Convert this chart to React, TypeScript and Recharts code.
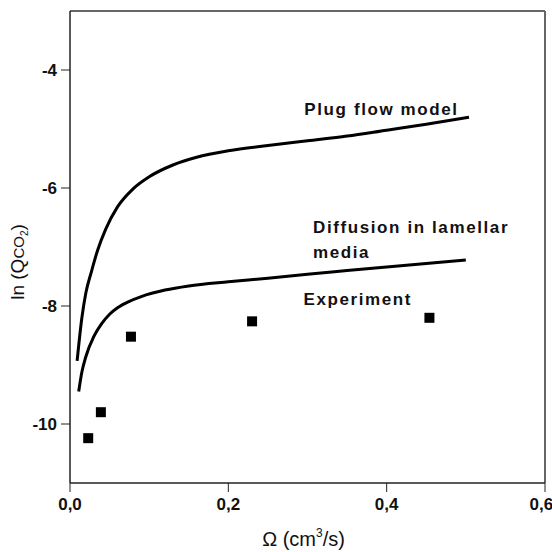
import { ComposedChart, Line, Scatter, XAxis, YAxis, ReferenceDot, ReferenceLine, Label } from 'recharts';

const xTicks = [0, 0.2, 0.4, 0.6];
const yTicks = [-4, -6, -8, -10];

const plugFlow = [
    { x: 0.009, y: -8.93 }, { x: 0.015, y: -8.2 }, { x: 0.02, y: -7.78 }, { x: 0.027, y: -7.42 },
    { x: 0.035, y: -7.05 }, { x: 0.045, y: -6.7 }, { x: 0.06, y: -6.32 }, { x: 0.08, y: -6.01 },
    { x: 0.1, y: -5.81 }, { x: 0.13, y: -5.61 }, { x: 0.16, y: -5.48 }, { x: 0.2, y: -5.37 },
    { x: 0.25, y: -5.28 }, { x: 0.3, y: -5.2 }, { x: 0.35, y: -5.12 }, { x: 0.4, y: -5.02 },
    { x: 0.45, y: -4.92 }, { x: 0.504, y: -4.8 },
];

const diffusion = [
    { x: 0.011, y: -9.45 }, { x: 0.015, y: -9.12 }, { x: 0.02, y: -8.86 }, { x: 0.03, y: -8.52 },
    { x: 0.04, y: -8.3 }, { x: 0.05, y: -8.14 }, { x: 0.06, y: -8.03 }, { x: 0.075, y: -7.92 },
    { x: 0.09, y: -7.84 }, { x: 0.12, y: -7.73 }, { x: 0.15, y: -7.66 }, { x: 0.2, y: -7.59 },
    { x: 0.25, y: -7.53 }, { x: 0.3, y: -7.46 }, { x: 0.35, y: -7.4 }, { x: 0.4, y: -7.34 },
    { x: 0.45, y: -7.28 }, { x: 0.5, y: -7.22 },
];

const experiment = [
    { x: 0.023, y: -10.24 },
    { x: 0.039, y: -9.8 },
    { x: 0.077, y: -8.52 },
    { x: 0.23, y: -8.26 },
    { x: 0.454, y: -8.2 },
];

const notes = [
    { x: 0.296, y: -4.76, text: 'Plug flow model' },
    { x: 0.307, y: -6.76, text: 'Diffusion in lamellar' },
    { x: 0.307, y: -7.19, text: 'media' },
    { x: 0.295, y: -7.98, text: 'Experiment' },
];

const font = '"Liberation Sans", Arial, sans-serif';
const tickStyle = { fontSize: 17, fontWeight: 700, fill: '#111', fontFamily: font };

const Square = (p: any) => <rect x={p.cx - 5} y={p.cy - 5} width={10} height={10} fill="#000" />;

const XTitle = (p: any) => {
    const { x, y, width } = p.viewBox;
    return (
        <text x={x + width / 2 - 4} y={y + 63} textAnchor="middle" fontSize={20} fontFamily={font} fill="#111">
            Ω (cm<tspan fontSize={12} dy={-9}>3</tspan><tspan dy={9}>/s)</tspan>
        </text>
    );
};

const YTitle = (p: any) => {
    const { x, y, height } = p.viewBox;
    const cx = x + 14;
    const cy = y + height / 2 + 15;
    return (
        <text x={cx} y={cy} transform={`rotate(-90 ${cx} ${cy})`} textAnchor="middle" fontSize={19} fontFamily={font} fill="#111">
            ln (Q<tspan fontSize={15}>CO</tspan><tspan fontSize={10} dy={4}>2</tspan><tspan dy={-4}>)</tspan>
        </text>
    );
};

export default function App() {
    return (
        <div style={{ position: 'absolute', left: 0, top: 0, background: '#fff' }}>
            <ComposedChart width={552} height={552} margin={{ top: 11, right: 7, bottom: 29, left: 10 }}>
                <XAxis
                    dataKey="x"
                    type="number"
                    domain={[0, 0.6]}
                    ticks={xTicks}
                    tickFormatter={(v: number) => v.toFixed(1).replace('.', ',')}
                    tick={tickStyle}
                    tickSize={9}
                    tickMargin={6}
                    axisLine={{ stroke: '#222', strokeWidth: 1.5 }}
                    tickLine={{ stroke: '#222' }}
                    height={40}
                >
                    <Label content={XTitle} />
                </XAxis>
                <YAxis
                    dataKey="y"
                    type="number"
                    domain={[-11, -3]}
                    ticks={yTicks}
                    tick={tickStyle}
                    tickSize={9}
                    tickMargin={4}
                    axisLine={{ stroke: '#222', strokeWidth: 1.5 }}
                    tickLine={{ stroke: '#222' }}
                    width={60}
                >
                    <Label content={YTitle} />
                </YAxis>
                <ReferenceLine y={-3} stroke="#666" strokeWidth={2} />
                <ReferenceLine x={0.6} stroke="#666" strokeWidth={2} />
                <Line data={plugFlow} dataKey="y" type="monotone" stroke="#000" strokeWidth={3} dot={false} isAnimationActive={false} />
                <Line data={diffusion} dataKey="y" type="monotone" stroke="#000" strokeWidth={3} dot={false} isAnimationActive={false} />
                <Scatter data={experiment} dataKey="y" shape={Square} isAnimationActive={false} />
                {notes.map((n) => (
                    <ReferenceDot
                        key={n.text}
                        x={n.x}
                        y={n.y}
                        r={0}
                        shape={(p: any) => (
                            <text x={p.cx} y={p.cy} fontSize={17} fontWeight={700} letterSpacing={1.6} fontFamily={font} fill="#111">
                                {n.text}
                            </text>
                        )}
                    />
                ))}
            </ComposedChart>
        </div>
    );
}
